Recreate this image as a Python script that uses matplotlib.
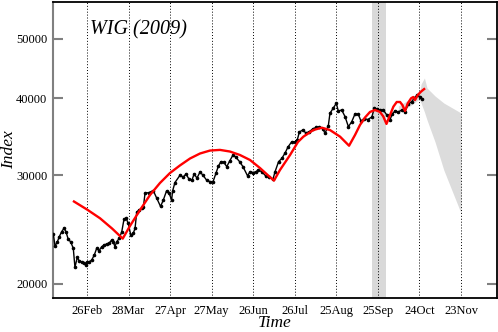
"""WIG 2009 index with fitted log-periodic curve and forecast fan."""

import matplotlib
matplotlib.use("Agg")
import matplotlib.pyplot as plt
import numpy as np

plt.rcParams['font.family'] = ['Liberation Serif', 'DejaVu Serif']

# day of year 2009 (approx) and index values
wig_day = [32.7, 33.9, 35.6, 37.0, 38.7, 40.4, 41.8, 43.5, 45.2, 47.1, 48.3, 50.0,
           51.4, 53.2, 54.8, 56.3, 57.2, 58.7, 60.4, 62.3, 64.0, 65.7, 67.6, 69.3,
           71.2, 72.9, 74.8, 76.0, 77.2, 78.4, 80.3, 82.1, 83.7, 85.2, 86.8, 88.6,
           90.4, 91.7, 92.9, 94.8, 96.5, 97.7, 98.9, 101.9, 104.8, 107.3, 110.1, 112.1,
           114.4, 116.3, 118.1, 118.8, 120.5, 124.1, 126.5, 128.5, 130.6, 132.8, 134.3, 136.4,
           138.6, 140.8, 143.3, 145.8, 148.0, 150.1, 151.9, 153.7, 155.9, 157.9, 160.2, 162.4,
           164.6, 167.1, 169.6, 172.9, 174.7, 176.9, 179.0, 180.8, 183.4, 185.9, 188.4, 191.3,
           192.7, 195.3, 197.6, 200.0, 202.1, 204.8, 207.2, 208.8, 210.3, 212.7, 215.1, 217.5,
           219.9, 222.3, 224.8, 227.2, 228.8, 231.2, 232.4, 234.8, 237.0, 238.4, 240.9, 243.3,
           245.7, 248.1, 250.5, 252.9, 254.8, 257.2, 259.7, 262.6, 264.4, 266.2, 268.5, 270.9,
           273.4, 275.8, 277.4, 279.4, 281.8, 284.2, 286.6, 289.0, 291.4, 293.3, 295.1, 297.4,
           298.6]
wig_val = [24100, 23040, 23410, 23860, 24310, 24620, 24310, 23620, 23410, 22850, 21290, 22090,
           21790, 21730, 21610, 21470, 21730, 21730, 21870, 22290, 22850, 22640, 22980, 23130,
           23220, 23280, 23560, 23410, 22980, 23410, 23710, 24310, 25460, 25560, 25080, 24010,
           24160, 24620, 26170, 26360, 26530, 26660, 28060, 28140, 28350, 27570, 26710, 27360,
           28300, 28060, 27360, 28300, 29210, 30000, 29820, 30150, 29590, 29480, 30150, 29700,
           30380, 30000, 29480, 29300, 29300, 30220, 31070, 31570, 31480, 30990, 31710, 32370,
           32070, 31590, 30990, 29950, 30410, 30320, 30410, 30600, 30380, 29950, 29820, 29590,
           30380, 31570, 31950, 32610, 33350, 34010, 34010, 34230, 35270, 35530, 35140, 35310,
           35670, 35870, 35940, 35730, 35100, 36070, 37820, 38580, 39260, 38150, 38290, 37350,
           35980, 36640, 37730, 37660, 36740, 37090, 36950, 37300, 38510, 38390, 38290, 38290,
           37590, 36950, 37730, 38150, 38010, 38290, 38050, 39160, 39500, 40010, 40440, 40260,
           39900]

# fitted curve
fit_day = [47.6, 57.0, 66.4, 75.1, 82.8, 88.0, 95.3, 102.5, 109.7, 116.9, 124.1, 131.4,
           138.6, 145.8, 153.0, 160.2, 167.4, 174.7, 181.9, 187.7, 192.0, 196.3, 203.6, 209.3,
           213.2, 220.4, 226.5, 232.4, 239.7, 246.2, 250.5, 254.1, 257.7, 261.3, 264.9, 268.5,
           270.9, 273.2, 275.8, 278.2, 280.6, 283.0, 284.7, 286.6, 288.6, 291.0, 292.6, 293.8,
           295.8, 298.2, 300.4]
fit_val = [27210, 26410, 25560, 24600, 23690, 24830, 26360, 27880, 29160, 30260, 31130, 31950,
           32550, 32910, 32990, 32790, 32370, 31770, 30830, 30000, 29420, 30600, 32370, 33980,
           34660, 35530, 35840, 35530, 34660, 33510, 34880, 36210, 37230, 38010, 38290, 38010,
           37380, 36350, 37590, 38770, 39450, 39450, 39010, 38150, 39260, 40010, 40190, 39740,
           40490, 41020, 41400]

# forecast fan
fan_day = [281.8, 290.2, 296.9, 298.2, 300.6, 302.5, 308.3, 314.6, 327.0]
fan_hi = [38870, 39890, 40340, 42190, 43150, 41560, 40340, 39300, 37870]
fan_lo = [38010, 38870, 39890, 39300, 38010, 36880, 33970, 30600, 26060]

band = (263, 273)

tick_days = [57, 87, 117, 147, 177, 207, 237, 267, 297, 327]
tick_labels = ['26Feb', '28Mar', '27Apr', '27May', '26Jun', '26Jul', '25Aug', '25Sep', '24Oct', '23Nov']
y_ticks = [20000, 30000, 40000, 50000]

fig = plt.figure(figsize=(4.98, 3.32), dpi=100)
ax = fig.add_axes([0.1064, 0.1024, 0.8916, 0.8916])

ax.axvspan(band[0], band[1], color='#d9d9d9', lw=0, zorder=0)
ax.fill_between(fan_day, fan_lo, fan_hi, color='#dcdcdc', lw=0, zorder=1)
for d in tick_days:
    ax.axvline(d, color='black', ls=(0, (1, 2)), lw=0.7, zorder=2)

ax.plot(wig_day, wig_val, color='black', lw=1.0, marker='o', ms=1.6, zorder=3)
ax.plot(fit_day, fit_val, color='red', lw=1.7, zorder=4)

ax.set_yscale('log')
ax.set_ylim(18980, 57300)
ax.set_xlim(32.45, 353.0)
ax.set_yticks(y_ticks)
ax.set_yticklabels([str(v) for v in y_ticks])
ax.yaxis.set_minor_locator(matplotlib.ticker.NullLocator())
ax.set_xticks(tick_days)
ax.set_xticklabels(tick_labels)
ax.tick_params(axis='y', direction='in', length=7, width=1.5, color='#808080',
               labelsize=9, right=True, pad=4)
ax.tick_params(axis='x', length=0, labelsize=9, pad=5)

for s in ['top', 'right', 'bottom']:
    ax.spines[s].set_linewidth(1.3)
    ax.spines[s].set_color('black')
ax.spines['left'].set_linewidth(1.5)
ax.spines['left'].set_color('#808080')

ax.set_xlabel('Time', style='italic', fontsize=12.5, va='center')
ax.xaxis.set_label_coords(0.5, -0.086)
ax.set_ylabel('Index', style='italic', fontsize=12.5, va='center')
ax.yaxis.set_label_coords(-0.098, 0.5)
ax.text(0.083, 0.905, 'WIG (2009)', transform=ax.transAxes, style='italic',
        fontsize=14.5, va='center', ha='left')

fig.savefig('out.png', dpi=100)
